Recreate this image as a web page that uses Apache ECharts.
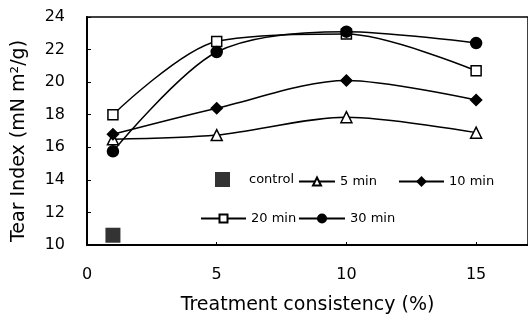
<!DOCTYPE html>
<html>
<head>
<meta charset="utf-8">
<script src="https://cdn.jsdelivr.net/npm/echarts@6/dist/echarts.min.js"></script>
<style>
  html, body { margin: 0; padding: 0; background: #fff; }
  #chart { width: 528px; height: 320px; }
</style>
</head>
<body>
<div id="chart"></div>
<script>
// Treatment consistency (%) on the x axis
const consistency = [1, 5, 10, 15];
// Tear index (mN m²/g) for each treatment time
const min5  = [16.5, 16.75, 17.85, 16.9];
const min10 = [16.8, 18.4, 20.1, 18.9];
const min20 = [18.0, 22.5, 22.95, 20.7];
const min30 = [15.75, 21.85, 23.1, 22.4];
// Untreated reference
const controlX = [1];
const controlY = [10.6];

const FONT = 'DejaVu Sans';
const pairs = (xs, ys) => xs.map((x, i) => [x, ys[i]]);

function lineSeries(name, values, symbol, size, fill) {
  return {
    name: name,
    type: 'line',
    data: pairs(consistency, values),
    smooth: 0.3,
    symbol: symbol,
    symbolSize: size,
    lineStyle: { color: '#000', width: 1.5 },
    itemStyle: { color: fill, borderColor: '#000', borderWidth: 1.5 },
    z: 3
  };
}

function legendItem(name, left, top, w, h, extra) {
  return Object.assign({
    data: [name],
    left: left,
    top: top,
    padding: 0,
    itemWidth: w,
    itemHeight: h,
    selectedMode: false,
    textStyle: { fontFamily: FONT, fontSize: 13, color: '#000' }
  }, extra || {});
}

const chart = echarts.init(document.getElementById('chart'), null, { renderer: 'canvas' });
chart.setOption({
  animation: false,
  backgroundColor: '#fff',
  grid: {
    left: 87, top: 17, bottom: 75, right: -4,
    show: true, borderColor: '#000', borderWidth: 1.5
  },
  xAxis: {
    type: 'value',
    min: 0, max: 17, interval: 5,
    name: 'Treatment consistency (%)',
    nameLocation: 'middle',
    nameGap: 51,
    nameTextStyle: { fontFamily: FONT, fontSize: 19, color: '#000' },
    axisLine: { lineStyle: { color: '#000', width: 2 } },
    axisTick: { inside: true, length: 3, lineStyle: { color: '#000' } },
    axisLabel: { fontFamily: FONT, fontSize: 16, color: '#000', margin: 22, showMaxLabel: false },
    splitLine: { show: false }
  },
  yAxis: {
    type: 'value',
    min: 10, max: 24, interval: 2,
    name: 'Tear Index (mN m²/g)',
    nameLocation: 'middle',
    nameGap: 58,
    nameTextStyle: { fontFamily: FONT, fontSize: 19, color: '#000', padding: [0, 20, 0, 0] },
    axisLine: { show: true, lineStyle: { color: '#000', width: 2 } },
    axisTick: { show: true, inside: true, length: 4, lineStyle: { color: '#000' } },
    axisLabel: { fontFamily: FONT, fontSize: 16, color: '#000', margin: 22 },
    splitLine: { show: false }
  },
  legend: [
    legendItem('control', 215, 172, 15, 15, {
      icon: 'rect',
      textStyle: { fontFamily: FONT, fontSize: 13, color: '#000', padding: [0, 0, 0, 14] }
    }),
    legendItem('5 min', 298, 175, 36, 10),
    legendItem('10 min', 398, 175, 45, 10),
    legendItem('20 min', 200, 212, 45, 10),
    legendItem('30 min', 298, 212, 46, 10)
  ],
  series: [
    {
      name: 'control',
      type: 'scatter',
      data: pairs(controlX, controlY),
      symbol: 'rect',
      symbolSize: 15,
      itemStyle: { color: '#000' },
      z: 3
    },
    lineSeries('5 min', min5, 'triangle', 11, '#fff'),
    lineSeries('10 min', min10, 'diamond', 11, '#000'),
    lineSeries('20 min', min20, 'rect', 10, '#fff'),
    lineSeries('30 min', min30, 'circle', 11, '#000')
  ]
});
</script>
</body>
</html>
